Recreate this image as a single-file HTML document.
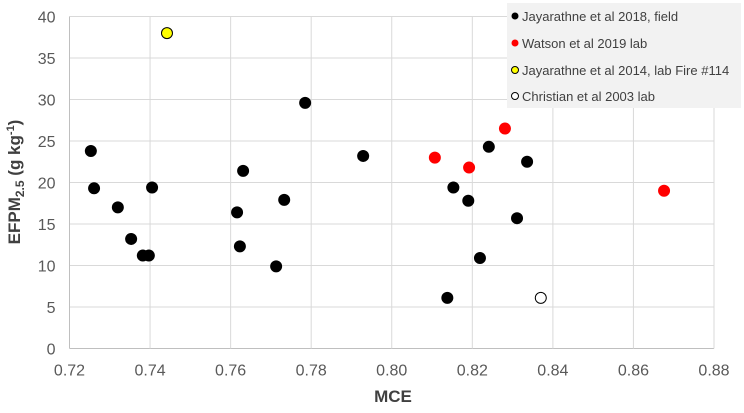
<!DOCTYPE html>
<html><head><meta charset="utf-8"><style>
body{margin:0;background:#fff;font-family:"Liberation Sans",sans-serif}
svg text{font-family:"Liberation Sans",sans-serif}
</style></head><body>
<svg id="chart" width="744" height="408" xmlns="http://www.w3.org/2000/svg">
<g id="grid"></g><g id="axes"></g><g id="pts"></g>
<text x="393" y="402" font-size="17" font-weight="bold" fill="#404040" text-anchor="middle">MCE</text>
<text transform="translate(20,182) rotate(-90)" font-size="17" font-weight="bold" fill="#404040" text-anchor="middle">EFPM<tspan font-size="12" dy="4">2.5</tspan><tspan dy="-4"> (g kg</tspan><tspan font-size="11" dy="-6">-1</tspan><tspan dy="6">)</tspan></text>
<g>
<rect x="507" y="3" width="234" height="105" fill="#f2f2f2"/>
<circle cx="515" cy="16" r="3.5" fill="#000"/><text x="522" y="21" font-size="13" fill="#404040">Jayarathne et al 2018, field</text>
<circle cx="515" cy="43" r="3.5" fill="#f00"/><text x="522" y="48" font-size="13" fill="#404040">Watson et al 2019 lab</text>
<circle cx="515" cy="70" r="3.5" fill="#ff0" stroke="#000" stroke-width="1"/><text x="522" y="75" font-size="13" fill="#404040">Jayarathne et al 2014, lab Fire #114</text>
<circle cx="515" cy="96" r="3.5" fill="#fff" stroke="#000" stroke-width="1"/><text x="522" y="101" font-size="13" fill="#404040">Christian et al 2003 lab</text>
</g>
</svg>
<script>
const xTicks=[0.72,0.74,0.76,0.78,0.80,0.82,0.84,0.86,0.88];
const yTicks=[0,5,10,15,20,25,30,35,40];
const fieldX=[0.7253,0.7261,0.732,0.7353,0.7382,0.7397,0.7405,0.7616,0.7623,0.7631,0.7713,0.7733,0.7785,0.7929,0.8138,0.8153,0.819,0.8219,0.8241,0.8311,0.8336];
const fieldY=[23.8,19.3,17.0,13.2,11.2,11.2,19.4,16.4,12.3,21.4,9.9,17.9,29.6,23.2,6.1,19.4,17.8,10.9,24.3,15.7,22.5];
const watsonX=[0.8107,0.8192,0.8281,0.8676];
const watsonY=[23.0,21.8,26.5,19.0];
const fireX=[0.7442];const fireY=[38.0];
const christianX=[0.837];const christianY=[6.1];
const L=69.5,R=714,T=16.5,B=348.5;
const sx=v=>L+(v-0.72)/(0.16)*(R-L);
const sy=v=>B-(v/40)*(B-T);
const NS="http://www.w3.org/2000/svg";
function mk(tag,attrs,parent){const e=document.createElementNS(NS,tag);for(const k in attrs)e.setAttribute(k,attrs[k]);parent.appendChild(e);return e;}
const grid=document.getElementById('grid'),axes=document.getElementById('axes'),pts=document.getElementById('pts');
yTicks.forEach(t=>{
 const l=mk('line',{x1:L,x2:R,y1:sy(t),y2:sy(t),stroke:t===0?'#bfbfbf':'#d9d9d9','stroke-width':1},grid);
 
 
 const tx=mk('text',{x:L-14,y:sy(t)+6,'font-size':16,fill:'#595959','text-anchor':'end'},axes);
 tx.textContent=t;
 
 
});
xTicks.forEach(t=>{
 const l=mk('line',{x1:sx(t),x2:sx(t),y1:T,y2:B,stroke:t===0.72?'#bfbfbf':'#d9d9d9','stroke-width':1},grid);
 
 
 const tx=mk('text',{x:sx(t),y:B+27,'font-size':16,fill:'#595959','text-anchor':'middle'},axes);
 tx.textContent=t.toFixed(2);
 
 
});
function series(xs,ys,fill,stroke,name){
 xs.forEach((x,i)=>{
  const c=mk('circle',{cx:sx(x),cy:sy(ys[i]),r:5.5,fill:fill,stroke:stroke,'stroke-width':1},pts);
  
  
 });
}
series(fieldX,fieldY,'#000','#000','point-jayarathne-2018');
series(watsonX,watsonY,'#f00','#f00','point-watson-2019');
series(fireX,fireY,'#ff0','#000','point-jayarathne-2014');
series(christianX,christianY,'#fff','#000','point-christian-2003');
</script>
</body></html>
